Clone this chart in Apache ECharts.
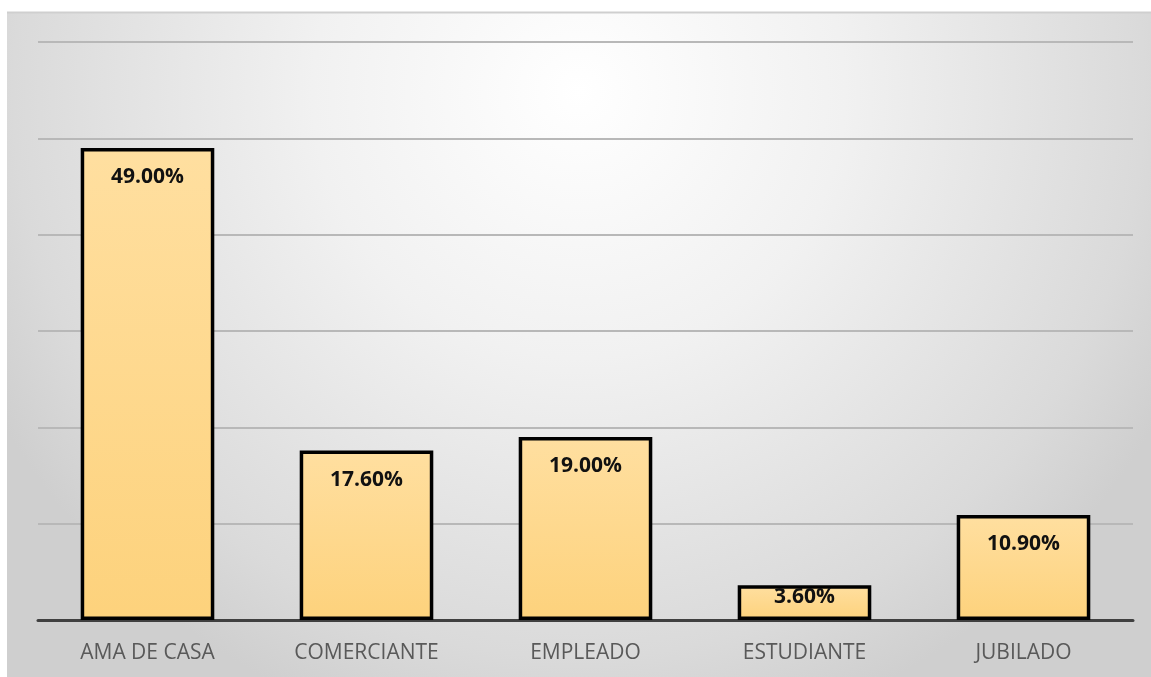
<!DOCTYPE html>
<html>
<head>
<meta charset="utf-8">
<script src="https://cdn.jsdelivr.net/npm/echarts@6/dist/echarts.min.js"></script>
<style>
  html, body { margin: 0; padding: 0; background: #ffffff; }
  #chart { width: 1151px; height: 677px; }
</style>
</head>
<body>
<div id="chart"></div>
<script>
// Occupation categories and their share (%)
const categories = ['AMA DE CASA', 'COMERCIANTE', 'EMPLEADO', 'ESTUDIANTE', 'JUBILADO'];
const shares = [49.0, 17.6, 19.0, 3.6, 10.9];
const yTicks = [0, 10, 20, 30, 40, 50, 60];

const FONT = '"Open Sans", "Liberation Sans", sans-serif';
const chart = echarts.init(document.getElementById('chart'));

chart.setOption({
  animation: false,
  graphic: [{
    // soft radial panel behind the plot
    type: 'rect',
    z: -10,
    silent: true,
    shape: { x: 7, y: 12, width: 1144, height: 665 },
    style: {
      fill: new echarts.graphic.RadialGradient(0.5, 0.12, 1.0, [
        { offset: 0, color: '#ffffff' },
        { offset: 0.4, color: '#f1f1f1' },
        { offset: 0.85, color: '#dadada' },
        { offset: 1, color: '#cfcfcf' }
      ])
    }
  }, {
    type: 'line',
    z: -9,
    silent: true,
    shape: { x1: 7, y1: 12.5, x2: 1151, y2: 12.5 },
    style: { stroke: '#cfcfcf', lineWidth: 2 }
  }],
  grid: { left: 38, right: 18, top: 42, bottom: 57, containLabel: false },
  xAxis: {
    type: 'category',
    data: categories,
    axisLine: { lineStyle: { color: '#404040', width: 3 } },
    axisTick: { show: false },
    axisLabel: {
      color: '#595959',
      fontSize: 21,
      fontFamily: FONT,
      margin: 23
    }
  },
  yAxis: {
    type: 'value',
    min: yTicks[0],
    max: yTicks[yTicks.length - 1],
    interval: 10,
    axisLabel: { show: false },
    axisLine: { show: false },
    axisTick: { show: false },
    splitLine: { lineStyle: { color: '#b8b8b8', width: 2 } }
  },
  series: [{
    type: 'bar',
    // short bars keep their label tight to the top edge
    data: shares.map(v => v < 5 ? { value: v, label: { distance: 1 } } : v),
    barWidth: '61%',
    itemStyle: {
      color: new echarts.graphic.LinearGradient(0, 0, 0, 1, [
        { offset: 0, color: '#ffdfa0' },
        { offset: 1, color: '#fdd27c' }
      ]),
      borderColor: '#000000',
      borderWidth: 3.5
    },
    label: {
      show: true,
      position: 'insideTop',
      distance: 19,
      formatter: p => p.value.toFixed(2) + '%',
      color: '#111111',
      fontWeight: 'bold',
      fontSize: 21,
      fontFamily: FONT
    }
  }]
});
</script>
</body>
</html>
